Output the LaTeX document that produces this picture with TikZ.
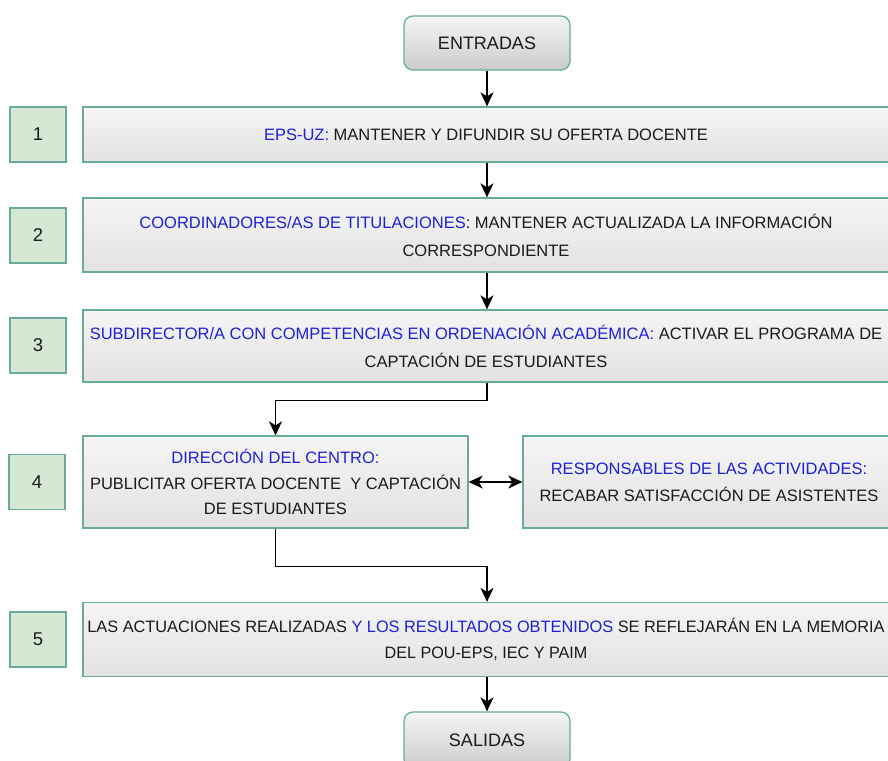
\documentclass[tikz,border=0pt]{standalone}
\usepackage{fontspec}
\setmainfont{Liberation Sans}
\usetikzlibrary{arrows.meta}
\definecolor{tealc}{HTML}{6AAB9C}
\definecolor{numfill}{HTML}{D5E8D4}
\definecolor{boxtop}{HTML}{F5F5F5}
\definecolor{boxbot}{HTML}{E2E2E2}
\definecolor{bluet}{HTML}{2020D8}
\definecolor{txt}{HTML}{1A1A1A}
\newcommand{\bl}[1]{\textcolor{bluet}{#1}}
\tikzset{
  mainbox/.style={draw=tealc, line width=1.3pt, top color=boxtop, bottom color=boxbot,
    align=center, inner sep=0pt, text=txt, font=\fontsize{16.5}{28}\selectfont},
  numbox/.style={draw=tealc, line width=1.3pt, fill=numfill, minimum width=56pt, minimum height=55pt,
    text=txt, font=\fontsize{18.5}{20}\selectfont},
  termbox/.style={draw=tealc, line width=1.3pt, rounded corners=9pt, top color=boxtop, bottom color=boxbot!90!black,
    minimum width=166pt, text=txt, font=\fontsize{18}{20}\selectfont},
  arr/.style={-{Stealth[length=14pt,width=13pt,inset=4pt]}, line width=1.5pt},
  darr/.style={{Stealth[length=14pt,width=13pt,inset=4pt]}-{Stealth[length=14pt,width=13pt,inset=4pt]}, line width=1.5pt}
}
\begin{document}
\begin{tikzpicture}[x=1pt,y=-1pt]
\useasboundingbox (0,0) rectangle (888,760);
\clip (0,0) rectangle (888,760);
\fill[white] (0,0) rectangle (888,760);

\node[termbox, minimum height=54pt] (entr) at (487,43) {ENTRADAS};

\node[mainbox, minimum width=806pt, minimum height=55pt] (b1) at (486,134.5)
  {\bl{EPS-UZ:} MANTENER Y DIFUNDIR SU OFERTA DOCENTE};
\node[numbox] (n1) at (38,134.5) {1};

\node[mainbox, minimum width=806pt, minimum height=74pt] (b2) at (486,235)
  {\bl{COORDINADORES/AS DE TITULACIONES}: MANTENER ACTUALIZADA LA INFORMACIÓN\\CORRESPONDIENTE};
\node[numbox] (n2) at (38,235.5) {2};

\node[mainbox, minimum width=806pt, minimum height=72pt] (b3) at (486,346)
  {\bl{SUBDIRECTOR/A CON COMPETENCIAS EN ORDENACIÓN ACADÉMICA:} ACTIVAR EL PROGRAMA DE\\CAPTACIÓN DE ESTUDIANTES};
\node[numbox] (n3) at (38,345.5) {3};

\node[mainbox, minimum width=385pt, minimum height=92pt, font=\fontsize{16.5}{25.5}\selectfont] (b4) at (275.5,482)
  {\bl{DIRECCIÓN DEL CENTRO:}\\PUBLICITAR OFERTA DOCENTE\ \ Y CAPTACIÓN\\DE ESTUDIANTES};
\node[numbox] (n4) at (37,482) {4};

\node[mainbox, minimum width=372pt, minimum height=92pt, font=\fontsize{16.5}{27}\selectfont] (b4r) at (709,482)
  {\bl{RESPONSABLES DE LAS ACTIVIDADES:}\\RECABAR SATISFACCIÓN DE ASISTENTES};

\node[mainbox, minimum width=806pt, minimum height=74pt, font=\fontsize{16.5}{26}\selectfont] (b5) at (486,639.5)
  {\scalebox{0.99}[1]{LAS ACTUACIONES REALIZADAS \bl{Y LOS RESULTADOS OBTENIDOS} SE REFLEJARÁN EN LA MEMORIA}\\
   \scalebox{0.98}[1]{DEL POU-EPS, IEC Y PAIM}};
\node[numbox] (n5) at (38,639.5) {5};

\node[termbox, minimum height=56pt] (sal) at (487,740) {SALIDAS};

\draw[arr] (entr.south) -- (entr.south |- b1.north);
\draw[arr] (b1.south -| entr) -- (entr |- b2.north);
\draw[arr] (b2.south -| entr) -- (entr |- b3.north);
\draw[arr] (b3.south -| entr) -- ++(0,18) -| (b4.north);
\draw[darr] (b4.east) -- (b4r.west);
\draw[arr] (b4.south) -- ++(0,38) -| (b5.north -| entr);
\draw[arr] (b5.south -| entr) -- (sal.north);
\end{tikzpicture}
\end{document}
